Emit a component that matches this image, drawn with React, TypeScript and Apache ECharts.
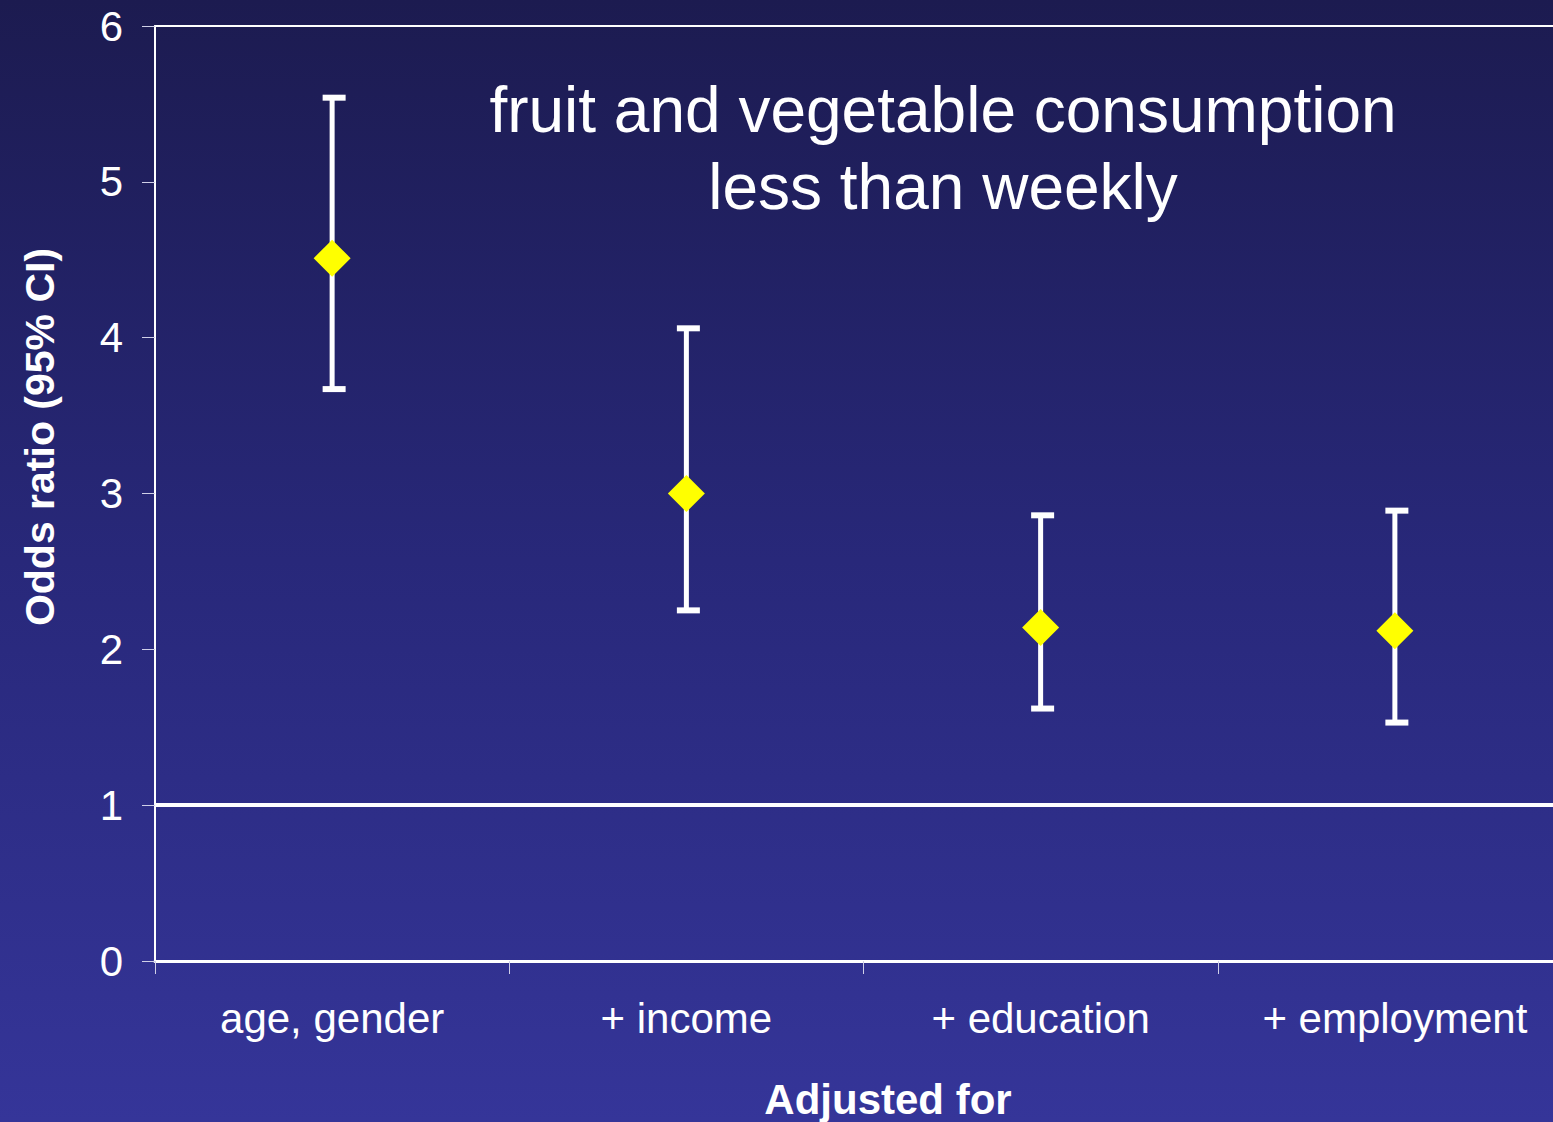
import React, { useEffect, useRef } from "react";
import * as echarts from "echarts";

const categories = ["age, gender", "+ income", "+ education", "+ employment"];
const oddsRatio = [4.51, 3.0, 2.14, 2.12];
const ciLower = [3.67, 2.25, 1.62, 1.53];
const ciUpper = [5.54, 4.06, 2.86, 2.89];
const referenceLine = 1;
const titleText = "fruit and vegetable consumption\nless than weekly";
const yAxisName = "Odds ratio (95% CI)";
const xAxisName = "Adjusted for";

const FONT = "'Liberation Sans', Arial, Helvetica, sans-serif";

export default function App() {
  const ref = useRef<HTMLDivElement>(null);

  useEffect(() => {
    if (!ref.current) return;
    const chart = echarts.init(ref.current, null, { renderer: "svg" });

    const errorData = categories.map((_, i) => [i, ciLower[i], ciUpper[i]]);

    const option: any = {
      animation: false,
      backgroundColor: "transparent",
      grid: {
        left: 155,
        top: 26,
        bottom: 161,
        right: -19,
        containLabel: false,
        outerBoundsMode: "none",
      },
      graphic: [
        {
          type: "text",
          x: 943,
          y: 148,
          z: 10,
          style: {
            text: titleText,
            fill: "#ffffff",
            fontSize: 64,
            fontFamily: FONT,
            lineHeight: 77,
            textAlign: "center",
            textVerticalAlign: "middle",
          },
        },
        {
          type: "text",
          x: 888,
          y: 1099,
          style: {
            text: xAxisName,
            fill: "#ffffff",
            fontSize: 42,
            fontWeight: "bold",
            fontFamily: FONT,
            textAlign: "center",
            textVerticalAlign: "middle",
          },
        },
        {
          type: "text",
          x: 40,
          y: 437,
          rotation: Math.PI / 2,
          style: {
            text: yAxisName,
            fill: "#ffffff",
            fontSize: 41,
            fontWeight: "bold",
            fontFamily: FONT,
            textAlign: "center",
            textVerticalAlign: "middle",
          },
        },
      ],
      xAxis: [
        {
          type: "category",
          data: categories,
          position: "bottom",
          boundaryGap: true,
          axisLine: { show: true, lineStyle: { color: "#ffffff", width: 3 } },
          axisTick: { show: true, length: 13, lineStyle: { color: "#d0d0e8", width: 1 } },
          axisLabel: {
            color: "#ffffff",
            fontSize: 42,
            fontFamily: FONT,
            margin: 36,
            interval: 0,
          },
          splitLine: { show: false },
        },
        {
          type: "category",
          data: categories,
          position: "top",
          axisLine: { show: true, lineStyle: { color: "#ffffff", width: 2 } },
          axisTick: { show: false },
          axisLabel: { show: false },
          splitLine: { show: false },
        },
      ],
      yAxis: {
        type: "value",
        min: 0,
        max: 6,
        interval: 1,
        axisLine: { show: true, lineStyle: { color: "#ffffff", width: 2 } },
        axisTick: { show: true, length: 13, lineStyle: { color: "#d0d0e8", width: 1 } },
        axisLabel: { color: "#ffffff", fontSize: 42, fontFamily: FONT, margin: 32 },
        splitLine: { show: false },
      },
      series: [
        {
          type: "custom",
          z: 2,
          data: errorData,
          renderItem: (params: any, api: any) => {
            const x = api.value(0);
            const lo = api.coord([x, api.value(1)]);
            const hi = api.coord([x, api.value(2)]);
            const capHalf = 11.5;
            const style = { stroke: "#ffffff", lineWidth: 5 };
            const capStyle = { stroke: "#ffffff", lineWidth: 6 };
            return {
              type: "group",
              children: [
                { type: "line", shape: { x1: lo[0], y1: lo[1], x2: hi[0], y2: hi[1] }, style },
                {
                  type: "line",
                  shape: { x1: hi[0] - capHalf + 2, y1: hi[1], x2: hi[0] + capHalf + 2, y2: hi[1] },
                  style: capStyle,
                },
                {
                  type: "line",
                  shape: { x1: lo[0] - capHalf + 2, y1: lo[1], x2: lo[0] + capHalf + 2, y2: lo[1] },
                  style: capStyle,
                },
              ],
            };
          },
          markLine: {
            silent: true,
            symbol: ["none", "none"],
            label: { show: false },
            lineStyle: { color: "#ffffff", width: 4, type: "solid" },
            data: [{ yAxis: referenceLine }],
          },
        },
        {
          type: "scatter",
          z: 5,
          data: oddsRatio,
          symbol: "diamond",
          symbolSize: 37,
          itemStyle: { color: "#ffff00", opacity: 1 },
        },
      ],
    };

    chart.setOption(option);
    return () => chart.dispose();
  }, []);

  return (
    <div
      ref={ref}
      style={{
        position: "fixed",
        left: 0,
        top: 0,
        width: 1553,
        height: 1122,
        background: "linear-gradient(to bottom, #1c1b50 0%, #28287a 50%, #353599 100%)",
      }}
    />
  );
}
